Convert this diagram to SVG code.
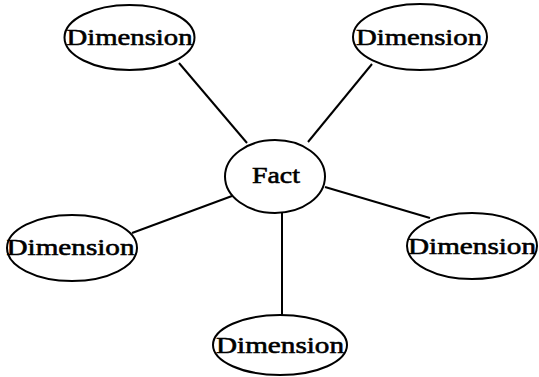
<svg xmlns="http://www.w3.org/2000/svg" width="539" height="377" viewBox="0 0 539 377">
<style>
.n{fill:#fff;stroke:#000;stroke-width:2}
.t{font-family:"Liberation Serif",serif;font-size:24px;fill:#000;stroke:#000;stroke-width:0.6;text-anchor:middle}
.c line{stroke:#000;stroke-width:2}
</style>
<rect width="539" height="377" fill="#fff"/>
<g class="c" id="connectors">
<line x1="179" y1="63" x2="247" y2="143"/>
<line x1="372" y1="64" x2="308" y2="142"/>
<line x1="132" y1="233" x2="232" y2="196"/>
<line x1="325" y1="187" x2="430" y2="218"/>
<line x1="282" y1="212" x2="282" y2="315"/>
</g>
<g id="fact"><ellipse class="n" cx="275" cy="176.5" rx="50" ry="36.5"/><text class="t" x="276" y="183" textLength="48" lengthAdjust="spacingAndGlyphs">Fact</text></g>
<g id="dim1"><ellipse class="n" cx="129.5" cy="37.5" rx="65" ry="32.5"/><text class="t" x="129.5" y="45" textLength="126" lengthAdjust="spacingAndGlyphs">Dimension</text></g>
<g id="dim2"><ellipse class="n" cx="420" cy="37" rx="67" ry="33"/><text class="t" x="419" y="45" textLength="126" lengthAdjust="spacingAndGlyphs">Dimension</text></g>
<g id="dim3"><ellipse class="n" cx="72" cy="248" rx="65" ry="33"/><text class="t" x="70.5" y="255" textLength="128" lengthAdjust="spacingAndGlyphs">Dimension</text></g>
<g id="dim4"><ellipse class="n" cx="472" cy="246" rx="65" ry="33"/><text class="t" x="472" y="254" textLength="128" lengthAdjust="spacingAndGlyphs">Dimension</text></g>
<g id="dim5"><ellipse class="n" cx="280" cy="345" rx="67" ry="30"/><text class="t" x="280" y="353" textLength="128" lengthAdjust="spacingAndGlyphs">Dimension</text></g>
</svg>
